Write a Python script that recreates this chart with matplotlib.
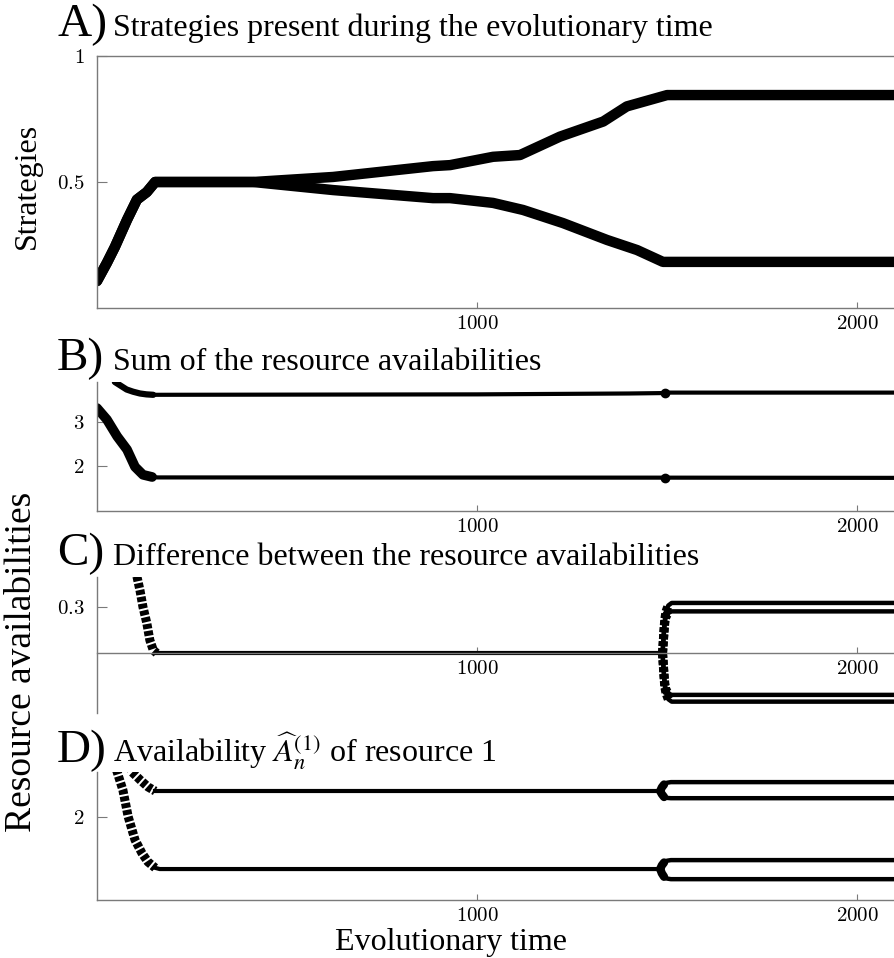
import numpy as np
import matplotlib.pyplot as plt

plt.rcParams['font.family'] = ['Liberation Serif', 'DejaVu Serif']
plt.rcParams['mathtext.fontset'] = 'cm'

W, H = 894, 958
T_MAX = 2097

# A) strategies
strat_rise_t = [0, 26, 47, 79, 105, 131, 153, 411]
strat_rise = [0.107, 0.179, 0.242, 0.35, 0.43, 0.46, 0.5, 0.5]
strat_up_t = [411, 621, 884, 929, 1042, 1113, 1218, 1332, 1394, 1500, 2100]
strat_up = [0.5, 0.52, 0.563, 0.567, 0.60, 0.607, 0.68, 0.74, 0.80, 0.845, 0.845]
strat_lo_t = [411, 621, 884, 929, 1042, 1121, 1226, 1342, 1421, 1489, 2100]
strat_lo = [0.5, 0.468, 0.436, 0.436, 0.417, 0.389, 0.337, 0.27, 0.23, 0.183, 0.183]

# B) sum of availabilities
sum_hi_t = [47, 78, 95, 113, 130, 148, 1000, 1400, 1495, 1505, 2100]
sum_hi = [3.9, 3.73, 3.68, 3.64, 3.62, 3.61, 3.62, 3.64, 3.65, 3.66, 3.66]
sum_lo_t = [0, 26, 53, 79, 100, 121, 145, 160, 1495, 2100]
sum_lo = [3.31, 3.05, 2.67, 2.37, 1.98, 1.80, 1.75, 1.74, 1.735, 1.73]
sum_blob_t = [1495, 1495]
sum_blob = [3.645, 1.735]

# C) difference
diff_early_t = [105, 113, 121, 131, 139, 148, 157]
diff_early = [0.5, 0.41, 0.30, 0.196, 0.085, 0.02, 0.0]
diff_mid_t = [157, 1488]
diff_mid = [0.0, 0.0]
diff_br_t = [1488, 1490, 1492, 1494, 1497, 1503, 1512, 2100]
diff_br_out = [0.0, 0.08, 0.16, 0.22, 0.27, 0.31, 0.327, 0.327]
diff_br_in = [0.0, 0.07, 0.14, 0.2, 0.24, 0.262, 0.272, 0.272]
diff_br_nin = [0.0, -0.07, -0.14, -0.2, -0.24, -0.262, -0.272, -0.272]
diff_br_nout = [0.0, -0.08, -0.16, -0.22, -0.26, -0.3, -0.316, -0.316]

# D) availability of resource 1
res_lo_t = [45, 53, 68, 82, 100, 118, 134, 153, 165, 1482]
res_lo = [2.9, 2.75, 2.45, 2.0, 1.61, 1.39, 1.24, 1.14, 1.12, 1.12]
res_hi_t = [85, 92, 113, 134, 153, 165, 1482]
res_hi = [2.85, 2.75, 2.62, 2.5, 2.43, 2.43, 2.43]
res_br_t = [1482, 1486, 1492, 1500, 1510, 2100]
res_hi_a = [2.43, 2.49, 2.54, 2.57, 2.58, 2.58]
res_hi_b = [2.43, 2.38, 2.33, 2.315, 2.31, 2.31]
res_lo_a = [1.12, 1.18, 1.23, 1.26, 1.27, 1.27]
res_lo_b = [1.12, 1.05, 0.99, 0.96, 0.95, 0.95]

x_ticks = [1000, 2000]
x_tick_labels = ['$1000$', '$2000$']

titles = [('A)', 'Strategies present during the evolutionary time', 36),
          ('B)', 'Sum of the resource availabilities', 370),
          ('C)', 'Difference between the resource availabilities', 565),
          ('D)', r'Availability $\widehat{A}_n^{(1)}$ of resource 1', 762)]

GRAY = '#7a7a7a'


def make_axes(fig, top, bottom):
    ax = fig.add_axes([97 / W, 1 - bottom / H, 1 - 97 / W, (bottom - top) / H])
    ax.set_xlim(0, T_MAX)
    for s in ax.spines.values():
        s.set_color(GRAY)
        s.set_linewidth(1.0)
    ax.spines['right'].set_visible(False)
    ax.spines['top'].set_visible(False)
    ax.set_xticks(x_ticks)
    ax.set_xticklabels(x_tick_labels)
    ax.tick_params(axis='x', direction='in', length=4, width=0.8, color=GRAY,
                   labelsize=15, pad=5)
    ax.tick_params(axis='y', direction='in', length=7, width=0.8, color=GRAY,
                   labelsize=15, pad=9)
    return ax


def dashed(ax, t, v):
    # stacked short bars, like the sampled points of the original
    ax.plot(t, v, color='k', lw=6.5, dashes=(0.55, 0.22), dash_capstyle='butt')


fig = plt.figure(figsize=(W / 100, H / 100), dpi=100)

# A
ax = make_axes(fig, 56, 308)
ax.spines['top'].set_visible(True)
ax.set_ylim(0, 1)
ax.set_yticks([0.5, 1])
ax.set_yticklabels(['$0.5$', '$1$'])
for tt, vv in [(strat_up_t, strat_up), (strat_lo_t, strat_lo)]:
    ax.plot(strat_rise_t + tt, strat_rise + vv, color='k', lw=7.5,
            solid_capstyle='round', solid_joinstyle='round')

# B
ax = make_axes(fig, 382, 511)
ax.set_ylim(0.98, 3.9)
ax.set_yticks([2, 3])
ax.set_yticklabels(['$2$', '$3$'])
ax.plot(sum_hi_t, sum_hi, color='k', lw=3)
ax.plot(sum_hi_t[:6], sum_hi[:6], color='k', lw=4.5, solid_capstyle='round')
ax.plot(sum_lo_t, sum_lo, color='k', lw=3)
ax.plot(sum_lo_t[:7], sum_lo[:7], color='k', lw=7, solid_capstyle='round')
ax.plot(sum_blob_t, sum_blob, 'o', color='k', ms=6, ls='none')

# C
ax = make_axes(fig, 577, 713)
ax.set_ylim(-0.39, 0.496)
ax.spines['bottom'].set_position(('data', 0))
ax.set_yticks([0.3])
ax.set_yticklabels(['$0.3$'])
dashed(ax, diff_early_t, diff_early)
ax.plot(diff_mid_t, diff_mid, color='k', lw=3)
for vv in [diff_br_out, diff_br_in, diff_br_nin, diff_br_nout]:
    ax.plot(diff_br_t, vv, color='k', lw=3.2)
    dashed(ax, diff_br_t[:6], vv[:6])

# D
ax = make_axes(fig, 772, 900)
ax.set_ylim(0.6, 2.75)
ax.set_yticks([2])
ax.set_yticklabels(['$2$'])
dashed(ax, res_lo_t[:8], res_lo[:8])
dashed(ax, res_hi_t[:5], res_hi[:5])
ax.plot(res_lo_t[7:], res_lo[7:], color='k', lw=3)
ax.plot(res_hi_t[4:], res_hi[4:], color='k', lw=3)
for vv in [res_hi_a, res_hi_b, res_lo_a, res_lo_b]:
    ax.plot(res_br_t, vv, color='k', lw=3.2)
    ax.plot(res_br_t[:3], vv[:3], color='k', lw=6, solid_capstyle='round')

for letter, text, base in titles:
    fig.text(57 / W, 1 - base / H, letter, fontsize=34, va='baseline', ha='left')
    fig.text(113 / W, 1 - base / H, text, fontsize=23, va='baseline', ha='left',
             math_fontfamily='stix')

fig.text(27 / W, 1 - 186 / H, 'Strategies', fontsize=23, rotation=90,
         ha='center', va='center')
fig.text(22 / W, 1 - 662 / H, 'Resource availabilities', fontsize=27, rotation=90,
         ha='center', va='center')
fig.text(451 / W, 1 - 950 / H, 'Evolutionary time', fontsize=23,
         ha='center', va='baseline')

fig.savefig('out.png', dpi=100)
